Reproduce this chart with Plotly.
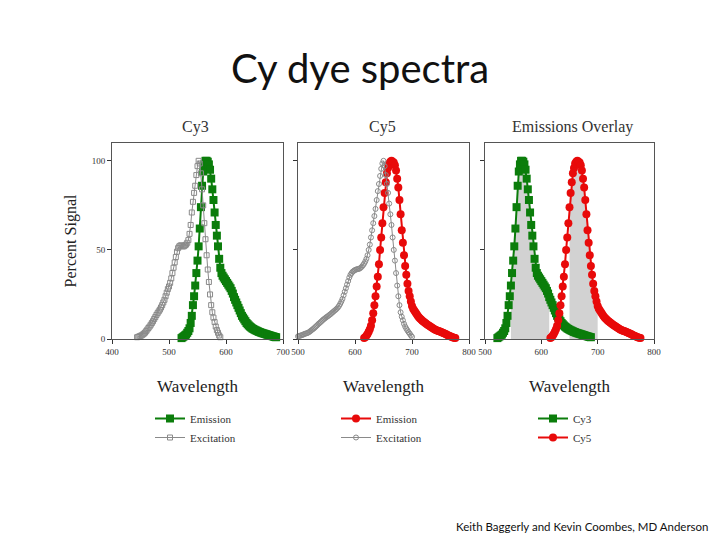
import numpy as np
import plotly.graph_objects as go

# Cy3 excitation, 2 nm steps from 444 nm
cy3_ex_start = 444
cy3_ex = [1.0, 1.2, 1.5, 1.8, 2.0, 2.5, 3.0, 3.6, 4.4, 5.3, 6.2, 7.0, 8.0, 9.0, 10.0,
          11.2, 12.3, 13.5, 14.5, 15.5, 16.5, 17.7, 19.0, 20.5, 22.0, 24.0, 26.0, 28.0,
          29.5, 31.5, 34.0, 37.0, 40.0, 43.0, 46.0, 49.0, 51.0, 52.0, 52.5, 52.5, 52.0,
          52.0, 52.5, 53.0, 54.0, 55.5, 59.0, 64.0, 71.0, 77.0, 82.0, 86.0, 92.0, 97.0,
          100, 98.5, 93, 84, 75, 65, 56, 47, 39, 32, 25, 19, 15, 12, 9.5, 7, 5, 3.5, 2, 1]

# Cy3 emission, 2 nm steps from 522 nm
cy3_em_start = 522
cy3_em = [0.5, 1, 1.5, 2, 2.5, 3.5, 4.5, 6, 9, 13, 19, 24, 30, 37, 44, 52, 62, 74, 86, 94,
          98, 100, 100, 99.5, 98, 95, 90, 84, 78, 71, 64, 58, 52, 45, 40, 37, 35.5, 34.5,
          33.5, 32.5, 31.5, 30.5, 29.5, 28.5, 27, 25.5, 23.5, 22, 20.5, 19, 17.5, 16, 14.5,
          13, 12, 11, 10, 9, 8.3, 7.6, 7, 6.5, 6, 5.6, 5.2, 4.9, 4.6, 4.3, 4, 3.8, 3.5, 3.3,
          3.1, 2.9, 2.7, 2.5, 2.3, 2.1, 1.9, 1.7, 1.5, 1.3, 1.1, 1.0]

# Cy5 excitation, 2 nm steps from 500 nm
cy5_ex_start = 500
cy5_ex = [1.5, 1.7, 1.9, 2.1, 2.3, 2.6, 2.9, 3.1, 3.3, 3.6, 4, 4.5, 5, 5.5, 6, 6.6, 7.2,
          7.8, 8.5, 9, 9.6, 10.2, 10.8, 11.3, 11.8, 12.3, 12.7, 13.2, 13.7, 14.2, 14.8,
          15.3, 15.9, 16.4, 17, 17.7, 18.6, 19.7, 21, 22.5, 24.5, 26.5, 28.5, 30.5, 32.5,
          34.5, 36, 37, 37.8, 38.3, 38.7, 39, 39.2, 39.3, 39.5, 40, 40.6, 41.4, 42.3, 43.5,
          45, 47, 50, 53, 57, 61, 65, 69, 73, 78, 83, 87, 91.5, 95.5, 98.5, 100, 97, 92,
          87, 82, 76, 70, 64, 57, 50, 44, 37, 30, 24, 19, 15, 12.5, 10.5, 8.5, 7, 5.8,
          4.8, 3.8, 3, 2, 1.2]

# Cy5 emission, 2 nm steps from 616 nm
cy5_em_start = 616
cy5_em = [0.5, 1, 1.8, 2.8, 4, 5.5, 7.5, 10.5, 14.5, 19, 24, 29.5, 35, 42, 50, 57, 65, 74,
          82, 88, 93, 96, 98.5, 99.5, 100, 99.5, 99, 97.5, 94.5, 90, 85, 78, 70, 61, 54,
          47, 41, 36, 31, 27, 24, 21, 18.5, 17, 16, 15, 14, 13, 12.2, 11.5, 11, 10.3, 9.8,
          9.3, 8.8, 8.3, 7.8, 7.4, 7, 6.6, 6.2, 5.8, 5.4, 5.1, 4.8, 4.5, 4.3, 4.1, 3.8,
          3.5, 3.2, 2.9, 2.6, 2.3, 2, 1.7, 1.4, 1.1, 0.9, 0.7, 0.5]

# filter bands shaded in the overlay panel
cy3_band = (545, 615)
cy5_band = (649, 701)

x_ticks_1 = [400, 500, 600, 700]
x_ticks_2 = [500, 600, 700, 800]
y_ticks = [0, 50, 100]


def wl(start, vals):
    return start + 2 * np.arange(len(vals))


GREEN = '#0b7d0b'
RED = '#e80a0a'
GRAY = '#8a8a8a'
SERIF = 'Liberation Serif, Times New Roman, serif'
SANS = 'Lato, Carlito, sans-serif'

# page has an 8px body margin, so the figure is a bit smaller than the window
PAD = 8
W, H = 720 - PAD, 540 - PAD


def px(x):
    return (x - PAD) / W


def py(y):
    return 1 - (y - PAD) / H


x3e, y3e = wl(cy3_ex_start, cy3_ex), np.array(cy3_ex)
x3m, y3m = wl(cy3_em_start, cy3_em), np.array(cy3_em)
x5e, y5e = wl(cy5_ex_start, cy5_ex), np.array(cy5_ex)
x5m, y5m = wl(cy5_em_start, cy5_em), np.array(cy5_em)

fig = go.Figure()

em_line = dict(width=2)
# panel 1: Cy3
fig.add_trace(go.Scatter(x=x3m, y=y3m, name='Emission', mode='lines+markers', cliponaxis=False,
                         line=dict(em_line, color=GREEN), marker=dict(symbol='square', size=8, color=GREEN),
                         xaxis='x', yaxis='y', legend='legend'))
fig.add_trace(go.Scatter(x=x3e, y=y3e, name='Excitation', mode='lines+markers', cliponaxis=False,
                         line=dict(color=GRAY, width=1),
                         marker=dict(symbol='square-open', size=5, color=GRAY, line=dict(width=1)),
                         xaxis='x', yaxis='y', legend='legend'))

# panel 2: Cy5
fig.add_trace(go.Scatter(x=x5m, y=y5m, name='Emission', mode='lines+markers', cliponaxis=False,
                         line=dict(em_line, color=RED), marker=dict(symbol='circle', size=8, color=RED),
                         xaxis='x2', yaxis='y2', legend='legend2'))
fig.add_trace(go.Scatter(x=x5e, y=y5e, name='Excitation', mode='lines+markers', cliponaxis=False,
                         line=dict(color=GRAY, width=1),
                         marker=dict(symbol='circle-open', size=5, color=GRAY, line=dict(width=1)),
                         xaxis='x2', yaxis='y2', legend='legend2'))

# panel 3: overlay with shaded bands
for xs, ys, band in [(x3m, y3m, cy3_band), (x5m, y5m, cy5_band)]:
    m = (xs >= band[0]) & (xs <= band[1])
    fig.add_trace(go.Scatter(x=xs[m], y=ys[m], mode='lines', fill='tozeroy', fillcolor='#d2d2d2',
                             line=dict(width=0, color='#d2d2d2'), showlegend=False,
                             xaxis='x3', yaxis='y3', hoverinfo='skip'))
fig.add_trace(go.Scatter(x=x3m, y=y3m, name='Cy3', mode='lines+markers', cliponaxis=False,
                         line=dict(em_line, color=GREEN), marker=dict(symbol='square', size=8, color=GREEN),
                         xaxis='x3', yaxis='y3', legend='legend3'))
fig.add_trace(go.Scatter(x=x5m, y=y5m, name='Cy5', mode='lines+markers', cliponaxis=False,
                         line=dict(em_line, color=RED), marker=dict(symbol='circle', size=8, color=RED),
                         xaxis='x3', yaxis='y3', legend='legend3'))

ydom = [py(339), py(143)]
doms = [(112, 283), (298, 469), (485, 654)]

ax_common = dict(showline=True, linecolor='#555', linewidth=1, mirror=True, showgrid=False,
                 zeroline=False, ticks='outside', ticklen=4, tickcolor='#333',
                 tickfont=dict(family=SERIF, size=9, color='#333'), automargin=False)

layout = dict(width=W, height=H, margin=dict(l=0, r=0, t=0, b=0, autoexpand=False),
              plot_bgcolor='white', paper_bgcolor='white', showlegend=True)

for i, (a, b) in enumerate(doms):
    sfx = '' if i == 0 else str(i + 1)
    ticks = x_ticks_1 if i == 0 else x_ticks_2
    layout['xaxis' + sfx] = dict(ax_common, domain=[px(a), px(b)], range=[ticks[0], ticks[-1]],
                                 tickvals=ticks, anchor='y' + sfx,
                                 title=dict(text='Wavelength', standoff=24,
                                            font=dict(family=SERIF, size=17, color='#222')))
    layout['yaxis' + sfx] = dict(ax_common, domain=ydom, range=[0, 110], tickvals=y_ticks,
                                 showticklabels=(i == 0), anchor='x' + sfx)
layout['yaxis']['title'] = dict(text='Percent Signal', standoff=11,
                                font=dict(family=SERIF, size=16, color='#222'))

leg = dict(orientation='v', xanchor='left', yanchor='top', y=py(404),
           bgcolor='rgba(0,0,0,0)', tracegroupgap=0,
           font=dict(family=SERIF, size=11, color='#333'))
layout['legend'] = dict(leg, x=px(150))
layout['legend2'] = dict(leg, x=px(336))
layout['legend3'] = dict(leg, x=px(533))

fig.update_layout(**layout)

titles = [('Cy3', 195), ('Cy5', 382), ('Emissions Overlay', 572)]
for t, xc in titles:
    fig.add_annotation(text=t, x=px(xc), y=py(127), xref='paper', yref='paper',
                       xanchor='center', yanchor='middle', showarrow=False,
                       font=dict(family=SERIF, size=16, color='#333'))

fig.add_annotation(text='Cy dye spectra', x=px(360), y=py(68), xref='paper', yref='paper',
                   xanchor='center', yanchor='middle', showarrow=False,
                   font=dict(family=SANS, size=40, color='#111'))
fig.add_annotation(text='Keith Baggerly and Kevin Coombes, MD Anderson', x=px(711), y=py(526),
                   xref='paper', yref='paper', xanchor='right', yanchor='middle', showarrow=False,
                   font=dict(family=SANS, size=11.5, color='#111'))

fig.write_html('out.html')
